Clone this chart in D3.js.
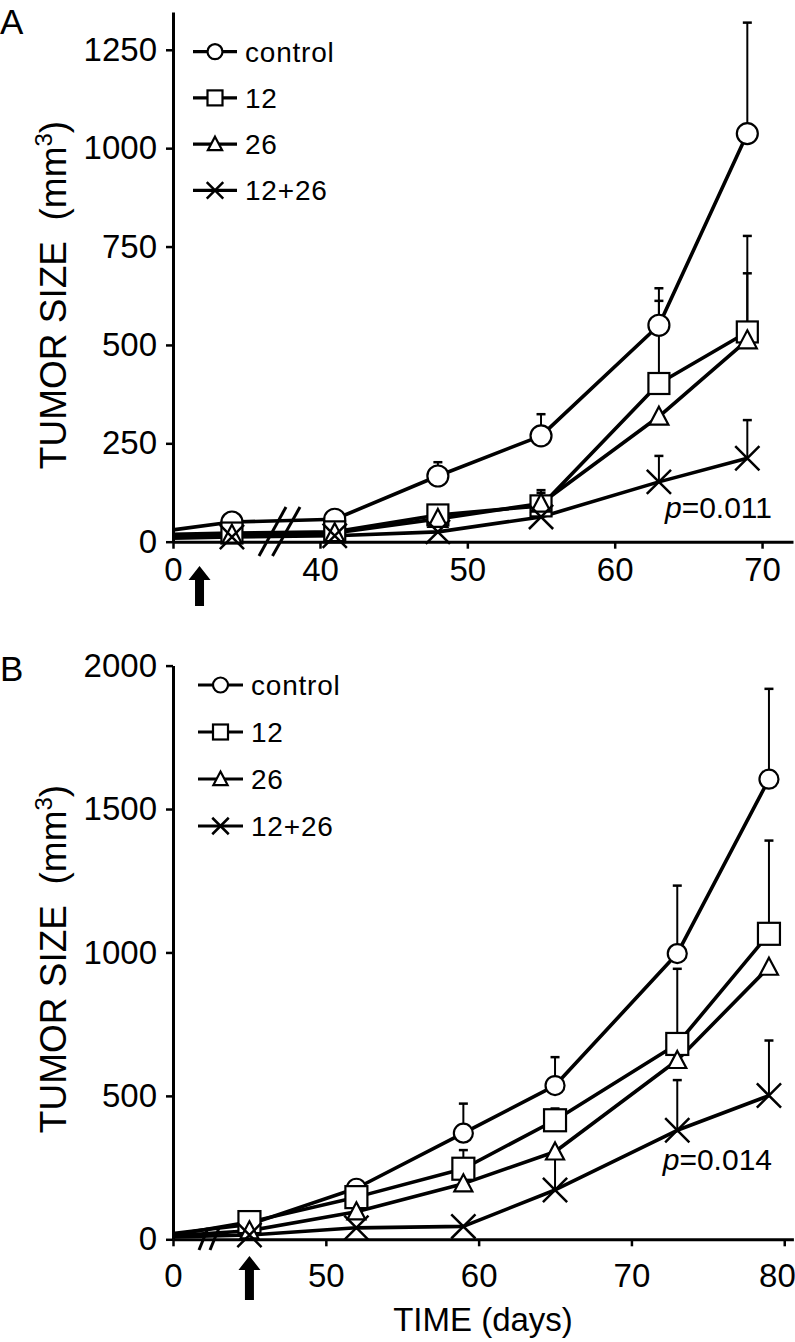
<!DOCTYPE html>
<html><head><meta charset="utf-8">
<script src="https://cdn.jsdelivr.net/npm/d3@7"></script>
<style>
body{margin:0;background:#fff}
svg{display:block}
text{font-family:"Liberation Sans",Arial,Helvetica,sans-serif;fill:#000}
</style></head>
<body><svg id="c" width="795" height="1342"></svg>
<script>
// ---------- DATA ----------
const seriesNames = ["control", "12", "26", "12+26"];
const markerTypes = ["circle", "square", "triangle", "cross"];

// Panel A
const daysA = [0, 4, 41, 48, 55, 63, 69];
const controlA = [30, 50, 57, 167, 269, 550, 1037];
const s12A = [19, 22, 25, 68, 91, 402, 533];
const s26A = [14, 18, 22, 58, 97, 318, 512];
const s1226A = [9, 12, 15, 25, 63, 152, 212];
const controlAErr = [null, null, null, 202, 324, 644, 1319];
const s12AErr = [null, null, null, null, 131, 612, 777];
const s26AErr = [null, null, null, null, 124, null, 682];
const s1226AErr = [null, null, null, null, null, 218, 309];
const yTicksA = [0, 250, 500, 750, 1000, 1250];
const xTicksA = [0, 40, 50, 60, 70];
const arrowDayA = 1.8;
const pTextA = "=0.011";

// Panel B
const daysB = [0, 45, 52, 59, 65, 73, 79];
const controlB = [20, 52, 178, 370, 536, 996, 1604];
const s12B = [15, 60, 147, 246, 415, 681, 1065];
const s26B = [12, 30, 96, 194, 305, 624, 949];
const s1226B = [8, 15, 40, 45, 172, 380, 501];
const controlBErr = [null, null, null, 473, 635, 1233, 1919];
const s12BErr = [null, null, null, 311, 456, 943, 1390];
const s26BErr = [null, null, null, null, null, null, null];
const s1226BErr = [null, null, null, null, 300, 555, 693];
const yTicksB = [0, 500, 1000, 1500, 2000];
const xTicksB = [0, 50, 60, 70, 80];
const arrowDayB = 45;
const pTextB = "=0.014";

// ---------- DRAW ----------
const svg = d3.select("#c");

function marker(g, type, x, y, s) {
  if (type === "circle") {
    g.append("circle").attr("cx", x).attr("cy", y).attr("r", s / 2)
      .attr("fill", "#fff").attr("stroke", "#000").attr("stroke-width", 2.2);
  } else if (type === "square") {
    g.append("rect").attr("x", x - s / 2).attr("y", y - s / 2).attr("width", s).attr("height", s)
      .attr("fill", "#fff").attr("stroke", "#000").attr("stroke-width", 2.2);
  } else if (type === "triangle") {
    const w = s * 0.95, h = s * 0.9;
    g.append("path").attr("d", `M${x},${y - h * 0.55}L${x + w / 2},${y + h * 0.45}L${x - w / 2},${y + h * 0.45}Z`)
      .attr("fill", "#fff").attr("stroke", "#000").attr("stroke-width", 2.2);
  } else {
    const a = s * 0.55;
    g.append("path").attr("d", `M${x - a},${y - a}L${x + a},${y + a}M${x - a},${y + a}L${x + a},${y - a}`)
      .attr("fill", "none").attr("stroke", "#000").attr("stroke-width", 2.5);
  }
}

function panel(cfg) {
  const g = svg.append("g");
  const x = cfg.x, y = cfg.y;
  const series = cfg.series;

  // axes
  const ya = g.append("g").attr("transform", `translate(${x.range()[0]},0)`)
    .call(d3.axisLeft(y).tickValues(cfg.yTicks).tickFormat(d3.format("d")).tickSize(7).tickPadding(9).tickSizeOuter(0));
  const xa = g.append("g").attr("transform", `translate(0,${y(0)})`)
    .call(d3.axisBottom(x).tickValues(cfg.xTicks).tickFormat(d3.format("d")).tickSize(7).tickPadding(cfg.xPad).tickSizeOuter(0));
  [ya, xa].forEach(a => {
    a.select(".domain").attr("stroke-width", 3);
    a.selectAll(".tick line").attr("stroke-width", 2.5);
    a.selectAll("text").style("font-size", "33px").attr("fill", "#000");
  });
  xa.selectAll(".tick text").filter(d => d === cfg.xTicks[cfg.xTicks.length - 1]).attr("dx", cfg.lastDx);

  // axis break
  cfg.breaks.forEach(b => {
    g.append("line").attr("x1", b[0]).attr("y1", b[1]).attr("x2", b[2]).attr("y2", b[3])
      .attr("stroke", "#000").attr("stroke-width", 3);
  });

  // lines
  const line = d3.line().x(d => x(d[0])).y(d => y(d[1]));
  series.forEach(s => {
    g.append("path").datum(cfg.days.map((d, i) => [d, s.vals[i]]))
      .attr("d", line).attr("fill", "none").attr("stroke", "#000").attr("stroke-width", 3.6)
      .attr("stroke-linejoin", "round");
  });
  // error bars
  series.forEach(s => {
    cfg.days.forEach((d, i) => {
      if (s.err[i] == null) return;
      const px = x(d);
      g.append("line").attr("x1", px).attr("x2", px).attr("y1", y(s.vals[i])).attr("y2", y(s.err[i]))
        .attr("stroke", "#000").attr("stroke-width", 2);
      g.append("line").attr("x1", px - 4.5).attr("x2", px + 4.5).attr("y1", y(s.err[i])).attr("y2", y(s.err[i]))
        .attr("stroke", "#000").attr("stroke-width", 2.5);
    });
  });
  // markers (skip day 0)
  series.forEach(s => {
    cfg.days.forEach((d, i) => {
      if (d === 0) return;
      marker(g, s.type, x(d), y(s.vals[i]), cfg.msize[s.type]);
    });
  });

  // arrow
  const ax = x(cfg.arrowDay), at = cfg.arrowY[0], ab = cfg.arrowY[1];
  g.append("path").attr("d",
    `M${ax},${at}L${ax + 11},${at + 14}L${ax + 4.5},${at + 14}L${ax + 4.5},${ab}L${ax - 4.5},${ab}L${ax - 4.5},${at + 14}L${ax - 11},${at + 14}Z`)
    .attr("fill", "#000");

  // legend
  series.forEach((s, i) => {
    const ly = cfg.legY + i * cfg.legDy;
    g.append("line").attr("x1", cfg.legX[0]).attr("x2", cfg.legX[1]).attr("y1", ly).attr("y2", ly)
      .attr("stroke", "#000").attr("stroke-width", 3.2);
    marker(g, s.type, (cfg.legX[0] + cfg.legX[1]) / 2, ly, cfg.legM[s.type]);
    g.append("text").attr("x", cfg.legX[1] + 8).attr("y", ly + 10).style("font-size", "28px")
      .style("letter-spacing", "0.8px").text(s.name);
  });

  // p value
  const pt = g.append("text").attr("x", cfg.pPos[0]).attr("y", cfg.pPos[1]).attr("text-anchor", "end")
    .style("font-size", "30px");
  pt.append("tspan").style("font-style", "italic").text("p");
  pt.append("tspan").text(cfg.pText);

  // y title
  const yt = g.append("text").attr("transform", `translate(66,${cfg.yTitleC}) rotate(-90)`)
    .attr("text-anchor", "middle").style("font-size", "37px").style("white-space", "pre");
  yt.append("tspan").text("TUMOR SIZE  (mm");
  yt.append("tspan").style("font-size", "24px").attr("dy", -14).text("3");
  yt.append("tspan").attr("dy", 14).text(")");

  // panel label
  g.append("text").attr("x", 0).attr("y", cfg.labelY).style("font-size", "35px").text(cfg.label);
}

const xA = d3.scaleLinear().domain([0, 6, 40, 72.1]).range([173, 261.4, 320, 793]);
const yA = d3.scaleLinear().domain([0, 1346]).range([541.7, 12]);
panel({
  x: xA, y: yA, days: daysA, yTicks: yTicksA, xTicks: xTicksA, xPad: 9, lastDx: 0,
  series: [
    {name: seriesNames[0], type: markerTypes[0], vals: controlA, err: controlAErr},
    {name: seriesNames[1], type: markerTypes[1], vals: s12A, err: s12AErr},
    {name: seriesNames[2], type: markerTypes[2], vals: s26A, err: s26AErr},
    {name: seriesNames[3], type: markerTypes[3], vals: s1226A, err: s1226AErr}
  ],
  msize: {circle: 21, square: 21, triangle: 20, cross: 22},
  legM: {circle: 15, square: 15, triangle: 15, cross: 15},
  breaks: [[259, 556, 286, 507], [272.5, 556, 300, 507]],
  arrowDay: arrowDayA, arrowY: [566, 606],
  legX: [193, 237], legY: 51.7, legDy: 46.2,
  pPos: [772, 518], pText: pTextA,
  yTitleC: 295, label: "A", labelY: 34
});

const xB = d3.scaleLinear().domain([0, 1.6, 42, 80.6]).range([173, 197.4, 203.6, 793.4]);
const yB = d3.scaleLinear().domain([0, 2000]).range([1239.3, 665.6]);
panel({
  x: xB, y: yB, days: daysB, yTicks: yTicksB, xTicks: xTicksB, xPad: 17, lastDx: "-0.22em",
  series: [
    {name: seriesNames[0], type: markerTypes[0], vals: controlB, err: controlBErr},
    {name: seriesNames[1], type: markerTypes[1], vals: s12B, err: s12BErr},
    {name: seriesNames[2], type: markerTypes[2], vals: s26B, err: s26BErr},
    {name: seriesNames[3], type: markerTypes[3], vals: s1226B, err: s1226BErr}
  ],
  msize: {circle: 19, square: 22, triangle: 19, cross: 22},
  legM: {circle: 15, square: 15, triangle: 15, cross: 15},
  breaks: [[199, 1250, 208, 1228], [210, 1250, 219, 1228]],
  arrowDay: arrowDayB, arrowY: [1256, 1300],
  legX: [198, 243], legY: 685, legDy: 47,
  pPos: [772, 1170], pText: pTextB,
  yTitleC: 959, label: "B", labelY: 681
});

// x title
svg.append("text").attr("x", 483).attr("y", 1331).attr("text-anchor", "middle")
  .style("font-size", "33px").text("TIME (days)");
</script></body></html>
